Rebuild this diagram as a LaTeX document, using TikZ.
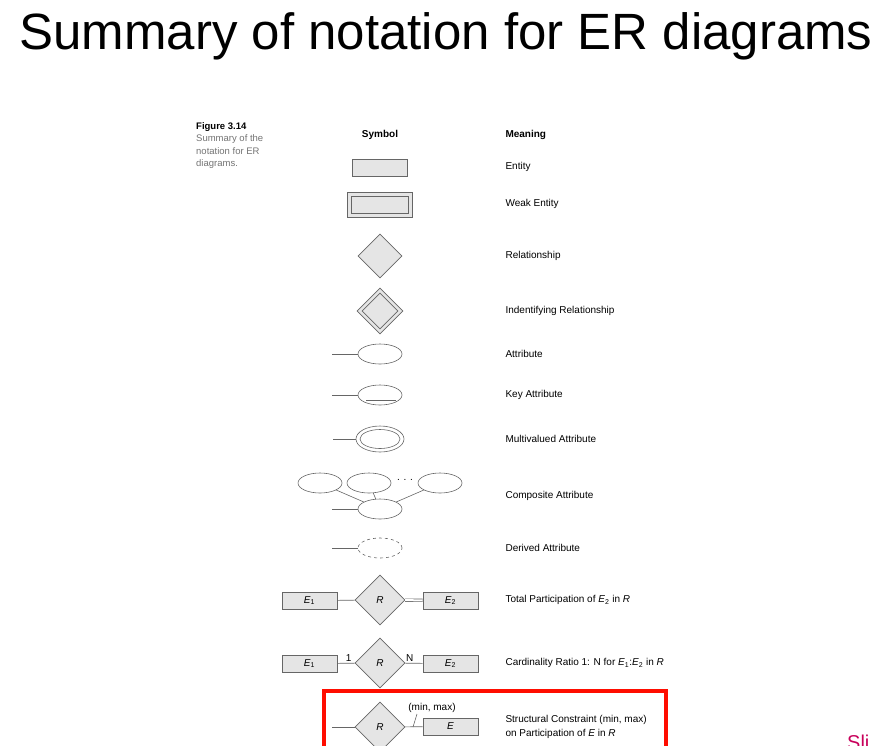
\documentclass[tikz,border=0pt]{standalone}
\usepackage{fontspec}
\setmainfont{Liberation Sans}
\newcommand{\ssub}[1]{\textsubscript{\upshape #1}}
\begin{document}
\begin{tikzpicture}[x=1pt,y=-1pt,
  ent/.style={draw=gray!80!black,fill=gray!20,minimum width=55pt,minimum height=17pt,inner sep=0pt,line width=0.6pt,font=\fontsize{10}{11}\selectfont\itshape},
  rel/.style={draw=gray!80!black,fill=gray!20,diamond,minimum width=50pt,minimum height=50pt,inner sep=0pt,line width=0.6pt,font=\fontsize{10}{11}\selectfont\itshape},
  att/.style={draw=gray!80!black,ellipse,minimum width=44pt,minimum height=20pt,inner sep=0pt,line width=0.6pt},
  ln/.style={draw=gray!80!black,line width=0.6pt},
  mean/.style={anchor=west,font=\fontsize{10}{14.5}\selectfont,align=left},
  sm/.style={font=\fontsize{10}{11}\selectfont}]
\usetikzlibrary{shapes.geometric}
\clip (0,0) rectangle (877,745);
\useasboundingbox (0,0) rectangle (877,745);
\node (title) at (446,36) {\fontsize{51}{56}\selectfont Summary of notation for ER diagrams};
\node[anchor=north west,align=left,inner sep=0pt,font=\fontsize{9.5}{12.5}\selectfont,text=gray!90!black] (cap) at (196,122)
  {\textcolor{black}{\bfseries Figure 3.14}\\Summary of the\\notation for ER\\diagrams.};
\node[font=\fontsize{10}{11}\selectfont\bfseries] (symh) at (380,135) {Symbol};
\node[mean,font=\fontsize{10}{11}\selectfont\bfseries] (meanh) at (502,135) {Meaning};
% Entity
\node[ent] (e) at (380,167.5) {};
\node[mean] (te) at (502,167) {Entity};
% Weak entity
\node[ent,minimum width=65pt,minimum height=25pt] (we) at (379.5,204.5) {};
\node[ent,minimum width=57pt,minimum height=17pt] (wei) at (379.5,204.5) {};
\node[mean] (twe) at (502,204) {Weak Entity};
% Relationship
\node[rel,minimum width=44pt,minimum height=44pt] (r) at (380,256) {};
\node[mean] (tr) at (502,256) {Relationship};
% Identifying
\node[rel,minimum width=46pt,minimum height=46pt] (ir) at (380,311) {};
\node[rel,minimum width=36pt,minimum height=36pt] (iri) at (380,311) {};
\node[mean] (tir) at (502,311) {Indentifying Relationship};
% Attribute
\node[att] (a) at (380,354) {};
\coordinate (a0) at (332,354);
\draw[ln] (a0) -- (a);
\node[mean] (ta) at (502,354) {Attribute};
% Key attribute
\node[att] (k) at (380,395) {};
\coordinate (k0) at (332,395);
\draw[ln] (k0) -- (k);
\coordinate (ku1) at (366,400); \coordinate (ku2) at (396,400);
\draw[ln] (ku1) -- (ku2);
\node[mean] (tk) at (502,395) {Key Attribute};
% Multivalued
\node[att,minimum width=48pt,minimum height=26pt] (m) at (380,439) {};
\node[att,minimum width=40pt,minimum height=19pt] (mi) at (380,439) {};
\coordinate (m0) at (333,439);
\draw[ln] (m0) -- (m);
\node[mean] (tm) at (502,439) {Multivalued Attribute};
% Composite
\node[att] (c1) at (320,483) {};
\node[att] (c2) at (369,483) {};
\node[att] (c3) at (440,483) {};
\node[sm] (cd) at (405,480) {. . .};
\node[att] (c) at (380,509) {};
\coordinate (c0) at (332,509);
\draw[ln] (c0) -- (c);
\draw[ln] (c1) -- (c); \draw[ln] (c2) -- (c); \draw[ln] (c3) -- (c);
\node[mean] (tc) at (502,496) {Composite Attribute};
% Derived
\node[att,dashed] (d) at (380,548) {};
\coordinate (d0) at (332,548);
\draw[ln] (d0) -- (d);
\node[mean] (td) at (502,548) {Derived Attribute};
% Total participation
\node[ent] (t1) at (309.5,600.5) {E\ssub{1}};
\node[rel] (tr2) at (380,600) {R};
\node[ent] (t2) at (450.5,600.5) {E\ssub{2}};
\draw[ln] (t1) -- (tr2);
\draw[ln,double,double distance=2pt] (tr2) -- (t2);
\node[mean] (tt) at (502,600) {Total Participation of \textit{E}\ssub{2} in \textit{R}};
% Cardinality
\node[ent] (k1) at (309.5,663.5) {E\ssub{1}};
\node[rel] (kr) at (380,663) {R};
\node[ent] (k2) at (450.5,663.5) {E\ssub{2}};
\draw[ln] (k1) -- node[sm,above,pos=0.65,inner sep=1pt] {1} (kr);
\draw[ln] (kr) -- node[sm,above,pos=0.2,inner sep=1pt,xshift=1pt] {N} (k2);
\node[mean] (tkk) at (502,663) {Cardinality Ratio 1: N for \textit{E}\ssub{1}:\textit{E}\ssub{2} in \textit{R}};
% Structural
\node[rel] (sr) at (380,727) {R};
\node[ent] (se) at (450.5,726.5) {E};
\coordinate (s0) at (332,727);
\draw[ln] (s0) -- (sr);
\draw[ln] (sr) -- (se);
\node[sm] (mm) at (432,708) {(min, max)};
\coordinate (tk1) at (413,727); \coordinate (tk2) at (417,714);
\draw[ln] (tk1) -- (tk2);
\node[mean] (ts) at (502,727) {Structural Constraint (min, max)\\on Participation of \textit{E} in \textit{R}};
% Red box
\draw[red!90!orange,line width=3.5pt] (324,760) -- (324,691) -- (666,691) -- (666,760);
\node[anchor=north west,text={rgb,255:red,200;green,0;blue,90},font=\fontsize{20}{22}\selectfont,inner sep=0pt] (sli) at (847,735) {Sli};
\end{tikzpicture}
\end{document}
